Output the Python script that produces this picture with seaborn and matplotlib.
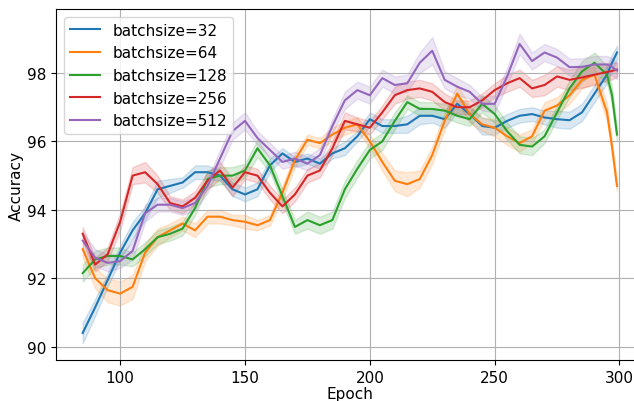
import numpy as np
import pandas as pd
import seaborn as sns
import matplotlib.pyplot as plt

epochs = [85, 90, 95, 100, 105, 110, 115, 120, 125, 130, 135, 140, 145, 150, 155,
          160, 165, 170, 175, 180, 185, 190, 195, 200, 205, 210, 215, 220, 225, 230,
          235, 240, 245, 250, 255, 260, 265, 270, 275, 280, 285, 290, 295, 297, 299]

labels = ["batchsize=32", "batchsize=64", "batchsize=128", "batchsize=256", "batchsize=512"]

acc_32 = [90.4, 91.15, 91.95, 92.75, 93.4, 93.9, 94.6, 94.7, 94.8, 95.1, 95.1, 95.0, 94.6, 94.45, 94.6,
          95.3, 95.65, 95.4, 95.5, 95.35, 95.65, 95.8, 96.15, 96.65, 96.45, 96.45, 96.5, 96.75, 96.75, 96.65,
          97.1, 96.8, 96.45, 96.4, 96.6, 96.75, 96.8, 96.7, 96.65, 96.62, 96.85, 97.4, 97.95, 98.3, 98.6]
acc_64 = [92.85, 92.0, 91.65, 91.55, 91.75, 92.75, 93.2, 93.4, 93.6, 93.4, 93.8, 93.8, 93.7, 93.65, 93.55,
          93.7, 94.5, 95.45, 96.05, 95.95, 96.2, 96.4, 96.5, 96.0, 95.4, 94.85, 94.75, 94.9, 95.6, 96.6,
          97.4, 96.8, 96.5, 96.4, 96.15, 95.95, 96.15, 96.9, 97.05, 97.35, 97.8, 97.95, 96.85, 95.85, 94.7]
acc_128 = [92.15, 92.55, 92.65, 92.65, 92.55, 92.85, 93.2, 93.3, 93.45, 94.05, 94.9, 95.0, 95.0, 95.15, 95.8,
           95.3, 94.4, 93.5, 93.7, 93.55, 93.7, 94.6, 95.2, 95.75, 96.0, 96.6, 97.15, 96.95, 96.95, 96.9,
           96.75, 96.65, 97.1, 96.8, 96.3, 95.9, 95.85, 96.15, 96.85, 97.55, 98.05, 98.3, 97.95, 97.35, 96.2]
acc_256 = [93.3, 92.4, 92.7, 93.65, 95.0, 95.1, 94.75, 94.2, 94.1, 94.35, 94.85, 95.15, 94.65, 95.1, 95.0,
           94.5, 94.1, 94.45, 95.0, 95.15, 95.8, 96.6, 96.5, 96.4, 96.85, 97.35, 97.5, 97.55, 97.45, 97.15,
           97.0, 97.0, 97.2, 97.5, 97.7, 97.85, 97.55, 97.65, 97.9, 97.8, 97.87, 97.95, 98.03, 98.06, 98.1]
acc_512 = [93.1, 92.6, 92.45, 92.5, 92.8, 93.9, 94.15, 94.15, 94.05, 94.2, 94.7, 95.5, 96.3, 96.6, 96.1,
           95.75, 95.4, 95.5, 95.35, 95.6, 96.45, 97.2, 97.5, 97.35, 97.85, 97.65, 97.7, 98.3, 98.65, 97.8,
           97.6, 97.45, 97.1, 97.1, 97.9, 98.85, 98.35, 98.6, 98.45, 98.17, 98.18, 98.25, 98.25, 98.18, 98.07]

# half width of the noisy band around each curve
sd_32 = [0.3, 0.25, 0.2, 0.2, 0.25, 0.2, 0.25, 0.2, 0.15, 0.2, 0.2, 0.15, 0.2, 0.2, 0.2,
         0.2, 0.15, 0.15, 0.15, 0.15, 0.15, 0.2, 0.15, 0.2, 0.2, 0.2, 0.25, 0.25, 0.2, 0.25,
         0.25, 0.2, 0.25, 0.2, 0.2, 0.2, 0.2, 0.2, 0.25, 0.25, 0.25, 0.25, 0.25, 0.25, 0.2]
sd_64 = [0.25, 0.3, 0.35, 0.35, 0.35, 0.25, 0.25, 0.2, 0.2, 0.2, 0.2, 0.2, 0.15, 0.2, 0.15,
         0.15, 0.2, 0.2, 0.15, 0.15, 0.2, 0.2, 0.2, 0.2, 0.25, 0.3, 0.35, 0.25, 0.25, 0.25,
         0.25, 0.25, 0.2, 0.25, 0.25, 0.25, 0.2, 0.25, 0.25, 0.25, 0.25, 0.25, 0.25, 0.2, 0.15]
sd_128 = [0.25, 0.25, 0.25, 0.25, 0.2, 0.2, 0.2, 0.2, 0.2, 0.2, 0.25, 0.25, 0.25, 0.2, 0.25,
          0.2, 0.2, 0.2, 0.25, 0.25, 0.25, 0.25, 0.25, 0.25, 0.25, 0.25, 0.2, 0.2, 0.2, 0.2,
          0.2, 0.2, 0.25, 0.25, 0.25, 0.25, 0.25, 0.2, 0.2, 0.25, 0.3, 0.3, 0.25, 0.25, 0.2]
sd_256 = [0.2, 0.2, 0.2, 0.25, 0.25, 0.3, 0.25, 0.2, 0.2, 0.2, 0.25, 0.25, 0.25, 0.2, 0.2,
          0.2, 0.2, 0.2, 0.2, 0.2, 0.2, 0.25, 0.2, 0.2, 0.2, 0.25, 0.25, 0.25, 0.25, 0.25,
          0.2, 0.2, 0.2, 0.2, 0.25, 0.25, 0.25, 0.3, 0.3, 0.3, 0.3, 0.3, 0.25, 0.25, 0.2]
sd_512 = [0.25, 0.25, 0.25, 0.2, 0.25, 0.25, 0.2, 0.2, 0.2, 0.2, 0.2, 0.25, 0.25, 0.25, 0.2,
          0.2, 0.2, 0.2, 0.2, 0.2, 0.2, 0.25, 0.25, 0.25, 0.25, 0.25, 0.25, 0.3, 0.4, 0.25,
          0.25, 0.2, 0.2, 0.25, 0.25, 0.3, 0.25, 0.25, 0.25, 0.25, 0.25, 0.25, 0.25, 0.25, 0.25]

series = [acc_32, acc_64, acc_128, acc_256, acc_512]
spreads = [sd_32, sd_64, sd_128, sd_256, sd_512]

frames = []
for name, vals, sd in zip(labels, series, spreads):
    v = np.array(vals)
    s = np.array(sd)
    for obs in (v - s, v, v + s):
        frames.append(pd.DataFrame({"Epoch": epochs, "Accuracy": obs, "batchsize": name}))
df = pd.concat(frames, ignore_index=True)

plt.rcParams["font.size"] = 11

fig, ax = plt.subplots(figsize=(6.34, 4.02), dpi=100)
ax.set_position([0.0883, 0.102, 0.927, 0.873])

sns.lineplot(
    data=df,
    x="Epoch",
    y="Accuracy",
    hue="batchsize",
    hue_order=labels,
    palette=sns.color_palette("tab10", 5),
    estimator="mean",
    errorbar=lambda a: (a.min(), a.max()),
    err_kws={"alpha": 0.17},
    linewidth=1.5,
    ax=ax,
)

ax.set_xlim(74.3, 309.7)
ax.set_ylim(89.61, 99.87)
ax.set_xticks([100, 150, 200, 250, 300])
ax.set_yticks([90, 92, 94, 96, 98])
ax.grid(True)
ax.set_xlabel("Epoch", labelpad=1)
ax.set_ylabel("Accuracy", labelpad=2)

handles, names = ax.get_legend_handles_labels()
ax.legend(handles, names, loc="upper left", fontsize=11)

plt.savefig("out.png", dpi=100)
